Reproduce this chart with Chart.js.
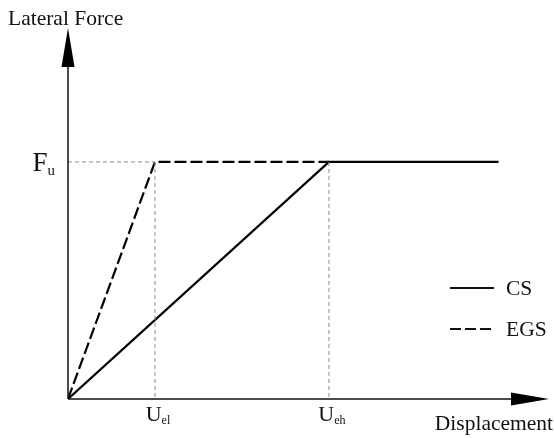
<!DOCTYPE html>
<html>
<head>
<meta charset="utf-8">
<script src="https://cdn.jsdelivr.net/npm/chart.js@4/dist/chart.umd.min.js"></script>
<style>
  html, body { margin: 0; padding: 0; background: #fff; }
  #wrap { width: 554px; height: 438px; }
</style>
</head>
<body>
<div id="wrap"><canvas id="chart"></canvas></div>
<script>
// idealised bilinear curves, Fu = 1, Uel = 1
const U_EL = 1;
const U_EH = 3;
const U_END = 4.95;
const F_U = 1;

const csX = [0, U_EH, U_END];
const csY = [0, F_U, F_U];
const egsX = [0, U_EL, U_EH];
const egsY = [0, F_U, F_U];

const xTickVals = [U_EL, U_EH];
const xTickLabels = [['U', 'el'], ['U', 'eh']];
const yTickVals = [F_U];
const yTickLabels = [['F', 'u']];

const X_MAX = 5.53;
const Y_MAX = 1.565;

const toPts = (xs, ys) => xs.map((x, i) => ({ x, y: ys[i] }));

const SERIF = "'Liberation Serif', 'DejaVu Serif', serif";

function subText(ctx, parts, x, y, size, align) {
  ctx.font = `${size}px ${SERIF}`;
  const w1 = ctx.measureText(parts[0]).width;
  ctx.font = `${size * 0.55}px ${SERIF}`;
  const w2 = ctx.measureText(parts[1]).width;
  let left = x;
  if (align === 'center') left = x - (w1 + w2) / 2;
  if (align === 'right') left = x - w1 - w2;
  ctx.textAlign = 'left';
  ctx.textBaseline = 'alphabetic';
  ctx.font = `${size}px ${SERIF}`;
  ctx.fillText(parts[0], left, y);
  ctx.font = `${size * 0.55}px ${SERIF}`;
  ctx.fillText(parts[1], left + w1, y + size * 0.15);
}

const axesPlugin = {
  id: 'axesPlugin',
  afterDatasetsDraw(chart) {
    const { ctx, scales: { x, y } } = chart;
    const x0 = x.getPixelForValue(0), y0 = y.getPixelForValue(0);
    const xEnd = x.getPixelForValue(X_MAX), yEnd = y.getPixelForValue(Y_MAX);
    ctx.save();
    ctx.strokeStyle = '#111';
    ctx.fillStyle = '#000';
    ctx.lineWidth = 1.5;
    ctx.beginPath();
    ctx.moveTo(x0, y0); ctx.lineTo(xEnd - 30, y0);
    ctx.moveTo(x0, y0); ctx.lineTo(x0, yEnd + 30);
    ctx.stroke();
    // arrow heads
    ctx.beginPath();
    ctx.moveTo(xEnd, y0); ctx.lineTo(xEnd - 38, y0 - 6.5); ctx.lineTo(xEnd - 38, y0 + 6.5); ctx.closePath();
    ctx.fill();
    ctx.beginPath();
    ctx.moveTo(x0, yEnd); ctx.lineTo(x0 - 6.5, yEnd + 39); ctx.lineTo(x0 + 6.5, yEnd + 39); ctx.closePath();
    ctx.fill();

    ctx.fillStyle = '#111';
    xTickVals.forEach((v, i) => subText(ctx, xTickLabels[i], x.getPixelForValue(v) + 3, 421, 22, 'center'));
    yTickVals.forEach((v, i) => subText(ctx, yTickLabels[i], 55, y.getPixelForValue(v) + 9, 27, 'right'));

    ctx.font = `21.5px ${SERIF}`;
    ctx.textAlign = 'left';
    ctx.textBaseline = 'alphabetic';
    ctx.fillText('Lateral Force', 8, 25);
    ctx.textAlign = 'right';
    ctx.fillText('Displacement', 553, 430);

    // legend
    const items = [
      { label: 'CS', dash: [], y: 288 },
      { label: 'EGS', dash: [11, 4], y: 329 },
    ];
    items.forEach(it => {
      ctx.setLineDash(it.dash);
      ctx.lineWidth = 2;
      ctx.beginPath();
      ctx.moveTo(450, it.y); ctx.lineTo(494, it.y);
      ctx.stroke();
      ctx.setLineDash([]);
      ctx.textAlign = 'left';
      ctx.textBaseline = 'middle';
      ctx.fillText(it.label, 506, it.y + 1);
    });
    ctx.restore();
  }
};

const guide = {
  borderColor: '#8c8c8c', borderWidth: 1, borderDash: [4, 3],
  pointRadius: 0, fill: false, tension: 0,
};

new Chart(document.getElementById('chart'), {
  type: 'line',
  data: {
    datasets: [
      { ...guide, data: toPts([0, U_EL], [F_U, F_U]) },
      { ...guide, data: toPts([U_EL, U_EL], [F_U, 0]) },
      { ...guide, data: toPts([U_EH, U_EH], [F_U, 0]) },
      {
        label: 'EGS', data: toPts(egsX, egsY),
        borderColor: '#000', borderWidth: 2.2, borderDash: [12, 4],
        pointRadius: 0, fill: false, tension: 0,
      },
      {
        label: 'CS', data: toPts(csX, csY),
        borderColor: '#000', borderWidth: 2.2,
        pointRadius: 0, fill: false, tension: 0,
      },
    ],
  },
  options: {
    responsive: true,
    maintainAspectRatio: false,
    animation: false,
    events: [],
    layout: { padding: { left: 68, right: 5, top: 28, bottom: 39 } },
    plugins: { legend: { display: false }, tooltip: { enabled: false } },
    scales: {
      x: { type: 'linear', min: 0, max: X_MAX, display: false },
      y: { type: 'linear', min: 0, max: Y_MAX, display: false },
    },
  },
  plugins: [axesPlugin],
});
</script>
</body>
</html>
